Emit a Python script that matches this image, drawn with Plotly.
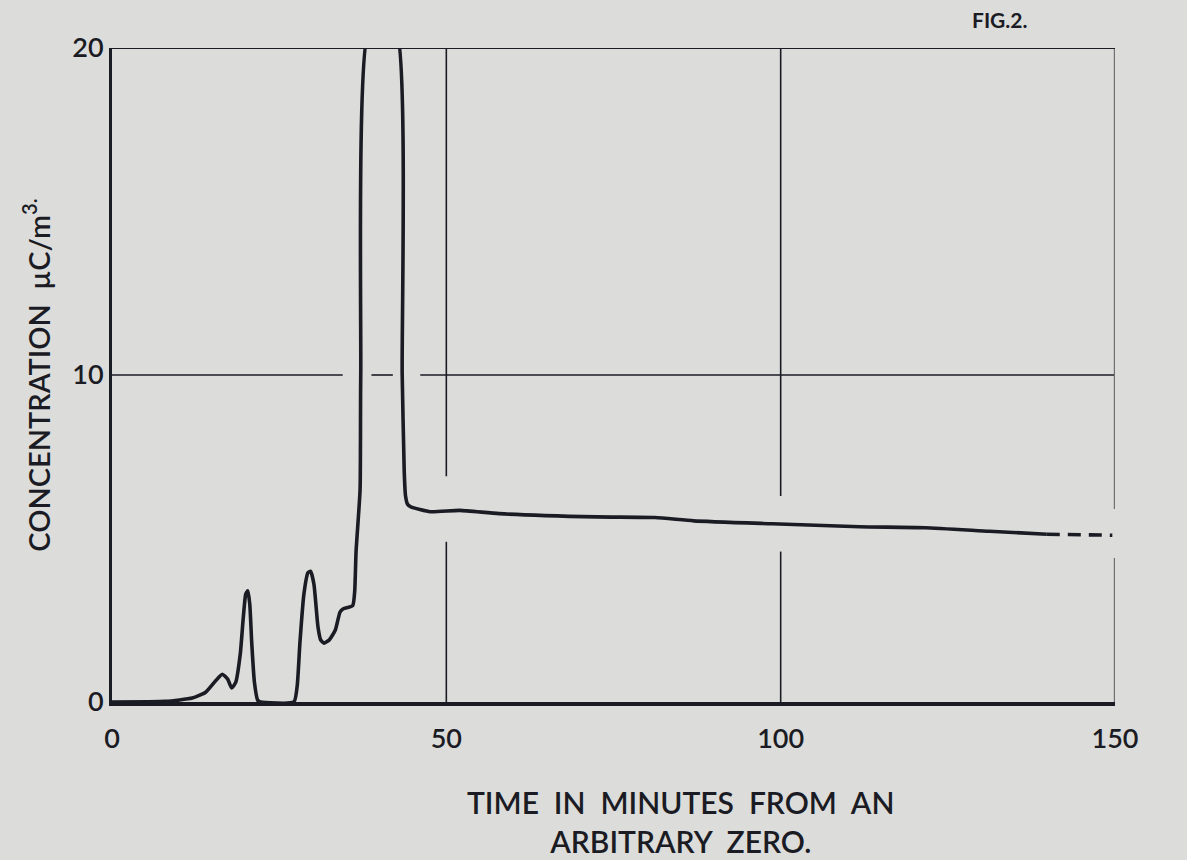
import plotly.graph_objects as go

# ---- data ----
time_min = [0, 8, 12, 14, 15.5, 16.5, 17.3, 17.9, 18.5, 19.2, 19.6, 20.0, 20.3, 20.6, 20.9, 21.3, 21.8, 22.2,
            27.2, 27.7, 28.1, 28.7, 29.3, 29.7, 30.2, 30.8, 31.2, 31.7, 32.5, 33.4, 34.1, 34.6, 36.0, 36.3,
            36.5, 37.1, 37.2, 38.5, 42.4, 43.4, 43.7, 43.9, 44.2, 44.7, 47.6, 52.0, 57.9, 72.5, 81.2, 87.0,
            98.7, 111.8, 121.6, 131.2, 139.8]
conc = [0, 0.02, 0.12, 0.3, 0.65, 0.85, 0.7, 0.43, 0.6, 1.5, 2.5, 3.3, 3.4, 3.0, 1.8, 0.6, 0.05, 0,
        0, 0.5, 1.8, 3.3, 3.95, 4.0, 3.6, 2.3, 1.9, 1.8, 1.9, 2.2, 2.75, 2.85, 2.95, 3.4,
        4.6, 6.5, 10, 20.6, 20.6, 10, 7.06, 6.3, 6.05, 5.97, 5.82, 5.86, 5.76, 5.66, 5.64, 5.54,
        5.45, 5.36, 5.33, 5.22, 5.13]
# extrapolated (dashed) part
ext_time = [139.8, 149.6]
ext_conc = [5.13, 5.1]

x_ticks = [0, 50, 100, 150]
x_tick_text = ["0", "50", "100", "150"]
y_ticks = [0, 10, 20]
y_tick_text = ["0", "10", "20"]

# hand-drawn grid segments (with the gaps left in the drawing)
grid10_x = [[0, 34.5], [38.8, 42.0], [46.1, 150]]
vgrid = {50: [[0, 4.9], [6.9, 20]], 100: [[0, 4.6], [6.3, 20]], 150: [[0, 4.4], [5.9, 20]]}

INK = "#1b1b24"
PAPER = "#dcdddb"
FONT = "Lato"

fig = go.Figure()

# horizontal line at 10
gx, gy = [], []
for a, b in grid10_x:
    gx += [a, b, None]
    gy += [10, 10, None]
fig.add_trace(go.Scatter(x=gx, y=gy, mode="lines", line=dict(color=INK, width=1.6),
                         hoverinfo="skip", showlegend=False))

# vertical grid lines
for xv, segs in vgrid.items():
    vx, vy = [], []
    for a, b in segs:
        vx += [xv, xv, None]
        vy += [a, b, None]
    col = "#6f6f72" if xv == 150 else INK
    w = 2.4 if xv == 150 else 1.6
    fig.add_trace(go.Scatter(x=vx, y=vy, mode="lines", line=dict(color=col, width=w),
                             hoverinfo="skip", showlegend=False))

# top border
fig.add_trace(go.Scatter(x=[0, 150], y=[20, 20], mode="lines", line=dict(color=INK, width=2.2),
                         hoverinfo="skip", showlegend=False))

# main curve
fig.add_trace(go.Scatter(x=time_min, y=conc, mode="lines",
                         line=dict(color=INK, width=3.6, shape="spline", smoothing=0.5),
                         showlegend=False))
fig.add_trace(go.Scatter(x=ext_time, y=ext_conc, mode="lines",
                         line=dict(color=INK, width=3.6, dash="13px,8px"),
                         showlegend=False))

PW = 1187 - 112 - 72
PH = 860 - 48 - 158

fig.update_layout(
    width=1187, height=860,
    paper_bgcolor=PAPER, plot_bgcolor=PAPER,
    margin=dict(l=112, r=72, t=48, b=158),
    font=dict(family=FONT, color=INK),
    xaxis=dict(range=[0, 150], tickvals=x_ticks, ticktext=x_tick_text, showgrid=False, zeroline=False,
               showline=True, linecolor=INK, linewidth=4, ticks="outside", ticklen=10,
               tickcolor="rgba(0,0,0,0)", tickfont=dict(size=27, weight=600)),
    yaxis=dict(range=[0, 20], tickvals=y_ticks, ticktext=y_tick_text, showgrid=False, zeroline=False,
               showline=True, linecolor=INK, linewidth=3, ticks="", tickfont=dict(size=27, weight=600),
               title=dict(text="CONCENTRATION  \u00b5C/m<sup>3.</sup>", font=dict(size=29, weight=600),
                          standoff=14)),
    annotations=[
        dict(text="FIG.2.", showarrow=False, xref="paper", yref="paper",
             x=(1000 - 112) / PW, y=1 + (48 - 20) / PH,
             xanchor="center", yanchor="middle",
             font=dict(size=21, weight=700, color=INK)),
        dict(text="TIME  IN  MINUTES  FROM  AN<br>ARBITRARY  ZERO.", showarrow=False,
             xref="paper", yref="paper", x=(680 - 112) / PW, y=(860 - 158 - 782) / PH,
             xanchor="center", yanchor="top", align="center",
             font=dict(size=30, weight=600, color=INK)),
    ],
)

fig.write_html("out.html")
